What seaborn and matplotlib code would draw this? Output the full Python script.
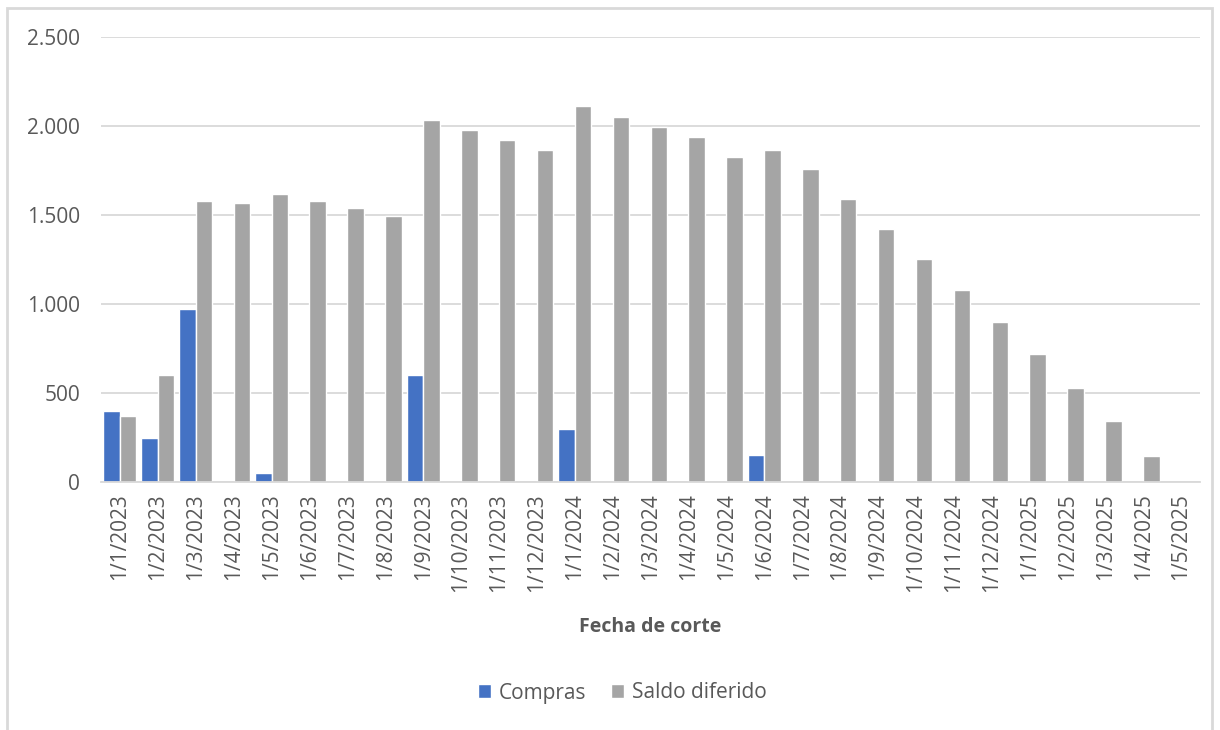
import numpy as np
import pandas as pd
import matplotlib
matplotlib.use('Agg')
import matplotlib.pyplot as plt
import matplotlib.ticker as mticker
from matplotlib.patches import Rectangle
import seaborn as sns

# ── Datos ──
fechas = [
    '1/1/2023', '1/2/2023', '1/3/2023', '1/4/2023', '1/5/2023', '1/6/2023',
    '1/7/2023', '1/8/2023', '1/9/2023', '1/10/2023', '1/11/2023', '1/12/2023',
    '1/1/2024', '1/2/2024', '1/3/2024', '1/4/2024', '1/5/2024', '1/6/2024',
    '1/7/2024', '1/8/2024', '1/9/2024', '1/10/2024', '1/11/2024', '1/12/2024',
    '1/1/2025', '1/2/2025', '1/3/2025', '1/4/2025', '1/5/2025',
]
compras = [
    400, 250, 970, 0, 50, 0,
    0, 0, 600, 0, 0, 0,
    300, 0, 0, 0, 0, 150,
    0, 0, 0, 0, 0, 0,
    0, 0, 0, 0, 0,
]
saldo_diferido = [
    370, 600, 1577, 1569, 1620, 1577,
    1539, 1496, 2036, 1980, 1922, 1864,
    2110, 2052, 1995, 1937, 1828, 1864,
    1757, 1592, 1424, 1252, 1078, 897,
    717, 529, 342, 146, 0,
]
series = ['Compras', 'Saldo diferido']
colores = ['#4472C4', '#A5A5A5']

TEXTO = '#595959'
GRID = '#D9D9D9'

df = pd.DataFrame({
    'fecha': fechas * 2,
    'valor': compras + saldo_diferido,
    'serie': [series[0]] * len(fechas) + [series[1]] * len(fechas),
})

sns.set_theme(style='white')
plt.rcParams['font.family'] = ['Open Sans', 'DejaVu Sans']

fig = plt.figure(figsize=(12.2, 7.3), dpi=100)
ax = fig.add_axes([101 / 1220, 248 / 730, 1099 / 1220, 445 / 730])

sns.barplot(data=df, x='fecha', y='valor', hue='serie', hue_order=series,
            palette=colores, order=fechas, width=0.87, saturation=1,
            errorbar=None, ax=ax)

ax.set_ylim(0, 2500)
ax.set_xlim(-0.5, len(fechas) - 0.5)
ax.yaxis.set_major_locator(mticker.MultipleLocator(500))
ax.yaxis.set_major_formatter(
    mticker.FuncFormatter(lambda v, p: f'{int(v):,}'.replace(',', '.')))
ax.grid(axis='y', color=GRID, linewidth=1.3)
ax.set_axisbelow(True)

for s in ['top', 'right', 'left']:
    ax.spines[s].set_visible(False)
ax.spines['bottom'].set_color(GRID)
ax.spines['bottom'].set_linewidth(1.3)

ax.tick_params(axis='both', length=0, colors=TEXTO, labelsize=15)
ax.tick_params(axis='y', pad=15)
ax.tick_params(axis='x', pad=8)
plt.setp(ax.get_xticklabels(), rotation=90)

ax.set_ylabel('')
ax.set_xlabel('Fecha de corte', fontsize=14, fontweight='bold',
              color=TEXTO, labelpad=18)

ax.legend(loc='center', bbox_to_anchor=(622 / 1220, 1 - 693 / 730),
          bbox_transform=fig.transFigure, ncol=2, frameon=False,
          fontsize=15, labelcolor=TEXTO, handlelength=0.65,
          handleheight=0.65, handletextpad=0.35, columnspacing=1.2)

# borde exterior del gráfico
fig.patches.append(Rectangle((7 / 1220, -0.05), 1205 / 1220, 1.05 - 8 / 730,
                             transform=fig.transFigure, fill=False,
                             edgecolor=GRID, linewidth=2))

fig.savefig('out.png', dpi=100, facecolor='white')
